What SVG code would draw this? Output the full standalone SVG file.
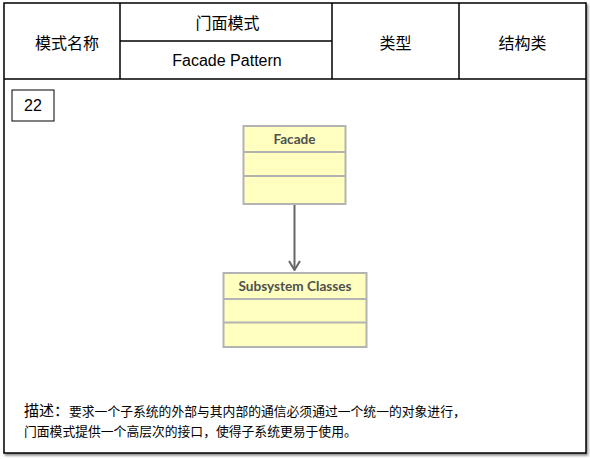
<svg xmlns="http://www.w3.org/2000/svg" width="590" height="459" viewBox="0 0 590 459">
<style>
.cell{fill:none;stroke:#000;stroke-width:1.5}
.hd{font-family:"Liberation Sans","Noto Sans CJK SC",sans-serif;font-size:16px;fill:#000;text-anchor:middle}
.cls{fill:#ffffc0;stroke:#b3b3b3;stroke-width:2}
.cn{font-family:Lato,"Liberation Sans",sans-serif;font-weight:bold;font-size:13.6px;fill:#505050;text-anchor:middle}
.ds{font-family:"Liberation Sans","Noto Sans CJK SC",sans-serif;font-size:12.8px;fill:#000}
</style>
<defs>
<filter id="sh" x="-5%" y="-5%" width="110%" height="110%">
<feDropShadow dx="1.5" dy="2" stdDeviation="1.2" flood-color="#000" flood-opacity="0.45"/>
</filter>
<marker id="arr" viewBox="0 0 12 14" refX="11" refY="7" markerWidth="12" markerHeight="14" markerUnits="userSpaceOnUse" orient="auto">
<path d="M2,1.5 L11,7 L2,12.5" fill="none" stroke="#666" stroke-width="2"/>
</marker>
</defs>
<g id="frame">
<rect x="4" y="3" width="582" height="450" fill="#fff" stroke="#000" stroke-width="1.5" filter="url(#sh)"/>
<line class="cell" x1="4" y1="79" x2="586" y2="79"/>
<line class="cell" x1="120" y1="3" x2="120" y2="79"/>
<line class="cell" x1="332" y1="3" x2="332" y2="79"/>
<line class="cell" x1="459" y1="3" x2="459" y2="79"/>
<line class="cell" x1="120" y1="41" x2="332" y2="41"/>
</g>
<g id="header">
<text class="hd" x="67" y="48.5">模式名称</text>
<text class="hd" x="227.5" y="29">门面模式</text>
<text class="hd" x="227" y="66">Facade Pattern</text>
<text class="hd" x="395.5" y="48.5">类型</text>
<text class="hd" x="522.5" y="48.5">结构类</text>
</g>
<g id="num">
<rect x="12" y="90" width="42" height="31" fill="#fff" stroke="#000" stroke-width="1"/>
<text class="hd" x="33" y="111">22</text>
</g>
<g id="connectors">
<line x1="294.5" y1="205" x2="294.5" y2="270" stroke="#666" stroke-width="2" marker-end="url(#arr)"/>
</g>
<g id="facade">
<rect class="cls" x="243.5" y="126" width="102" height="78"/>
<line class="cls" x1="243.5" y1="152" x2="345.5" y2="152"/>
<line class="cls" x1="243.5" y1="176" x2="345.5" y2="176"/>
<text class="cn" x="294.5" y="144">Facade</text>
</g>
<g id="subsystem">
<rect class="cls" x="223.5" y="273" width="143" height="74"/>
<line class="cls" x1="223.5" y1="299" x2="366.5" y2="299"/>
<line class="cls" x1="223.5" y1="322.5" x2="366.5" y2="322.5"/>
<text class="cn" x="295" y="291">Subsystem Classes</text>
</g>
<g id="desc">
<text class="ds" x="24" y="416"><tspan font-size="15px">描述：</tspan>要求一个子系统的外部与其内部的通信必须通过一个统一的对象进行，</text>
<text class="ds" x="24" y="436">门面模式提供一个高层次的接口，使得子系统更易于使用。</text>
</g>
</svg>
